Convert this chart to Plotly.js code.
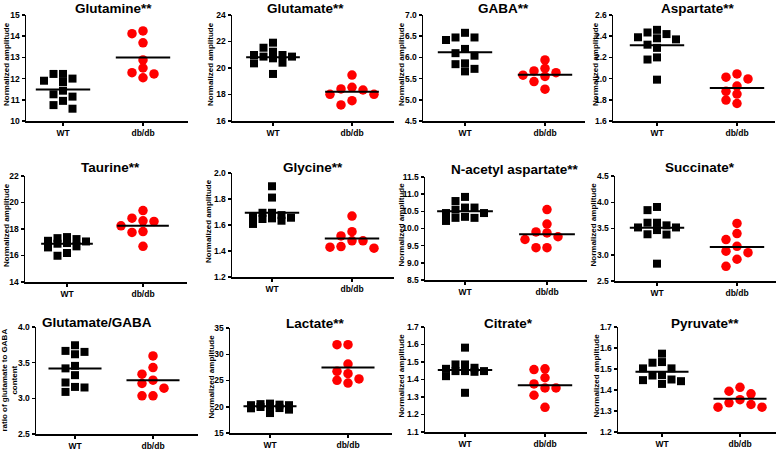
<!DOCTYPE html>
<html>
<head>
<meta charset="utf-8">
<script src="https://cdn.plot.ly/plotly-3.0.1.min.js"></script>
<style>
  html, body { margin: 0; padding: 0; background: #fff; }
  #chart { width: 778px; height: 450px; }
</style>
</head>
<body>
<div id="chart"></div>
<script>
// values (normalized amplitude per animal)
var groups = ["WT", "db/db"];

var glutamineWT = [12.22, 12.0, 11.84, 11.9, 12.22, 10.95, 11.15, 11.26, 11.43, 10.58, 10.75];
var glutamineDB = [14.25, 14.12, 13.69, 12.88, 12.28, 12.04, 12.22, 12.5];
var glutamateWT = [21.91, 21.53, 21.23, 20.98, 20.98, 20.86, 20.86, 20.73, 20.40, 20.35, 19.55];
var glutamateDB = [19.47, 18.54, 18.42, 18.34, 18.01, 18.01, 17.53, 17.21];
var gabaWT = [6.47, 6.41, 6.47, 6.58, 6.10, 6.04, 6.20, 5.84, 5.67, 5.73, 5.86];
var gabaDB = [5.68, 5.58, 5.94, 5.55, 5.64, 5.43, 5.74, 5.25];
var aspartateWT = [2.435, 2.39, 2.37, 2.38, 2.42, 2.46, 2.32, 2.29, 2.20, 2.18, 1.99];
var aspartateDB = [2.044, 1.997, 2.013, 1.93, 1.88, 1.854, 1.797, 1.765];
var taurineWT = [17.11, 16.94, 17.31, 17.39, 16.89, 17.06, 17.24, 16.69, 16.61, 15.98, 16.19];
var taurineDB = [19.39, 18.57, 18.62, 18.82, 18.24, 17.81, 17.74, 16.69];
var glycineWT = [1.898, 1.811, 1.656, 1.694, 1.646, 1.694, 1.608, 1.633, 1.651, 1.676, 1.664];
var glycineDB = [1.669, 1.549, 1.516, 1.478, 1.434, 1.422, 1.429, 1.478];
var naaWT = [10.80, 10.92, 10.61, 10.45, 10.55, 10.61, 10.45, 10.31, 10.22, 10.31, 10.34];
var naaDB = [10.55, 10.13, 9.87, 9.76, 9.90, 9.68, 9.44, 9.44];
var succinateWT = [3.91, 3.85, 3.61, 3.56, 3.61, 3.52, 3.52, 3.47, 3.39, 3.385, 2.83];
var succinateDB = [3.596, 3.404, 3.29, 3.16, 3.067, 3.04, 2.914, 2.78];
var gluGabaWT = [3.744, 3.665, 3.618, 3.651, 3.42, 3.455, 3.325, 3.16, 3.152, 3.222, 3.09];
var gluGabaDB = [3.595, 3.432, 3.339, 3.255, 3.208, 3.143, 3.036, 3.036];
var lactateWT = [19.95, 20.6, 20.5, 19.45, 19.75, 18.8, 20.3, 20.4, 20.3, 19.7, 20.2];
var lactateDB = [31.83, 31.83, 28.14, 26.75, 25.29, 24.52, 25.03, 26.3];
var citrateWT = [1.582, 1.448, 1.444, 1.461, 1.486, 1.486, 1.467, 1.448, 1.448, 1.419, 1.324];
var citrateDB = [1.461, 1.457, 1.41, 1.352, 1.375, 1.352, 1.31, 1.241];
var pyruvateWT = [1.573, 1.533, 1.53, 1.503, 1.503, 1.469, 1.471, 1.45, 1.447, 1.442, 1.429];
var pyruvateDB = [1.394, 1.413, 1.382, 1.354, 1.331, 1.318, 1.318, 1.339];

// group mean lines as drawn in the figure
var meanWT = [11.49, 20.81, 6.12, 2.314, 16.89, 1.694, 10.50, 3.513, 3.418, 20.08, 1.455, 1.487];
var meanDB = [13.0, 18.21, 5.59, 1.911, 18.24, 1.496, 9.83, 3.15, 3.255, 27.5, 1.367, 1.358];

var titles = ["Glutamine**", "Glutamate**", "GABA**", "Aspartate**",
              "Taurine**", "Glycine**", "N-acetyl aspartate**", "Succinate*",
              "Glutamate/GABA", "Lactate**", "Citrate*", "Pyruvate**"];
var yTitles = ["Normalized amplitude", "Normalized amplitude", "Normalized amplitude", "Normalized amplitude",
               "Normalized amplitude", "Normalized amplitude", "Normalized amplitude", "Normalized amplitude",
               "ratio of glutamate to GABA<br>content", "Normalized amplitude", "Normalized amplitude", "Normalized amplitude"];
var yMin = [10, 16, 4.5, 1.6, 14, 1.2, 8.5, 2.5, 2.5, 15, 1.1, 1.2];
var yMax = [15, 24, 7.0, 2.6, 22, 2.0, 11.5, 4.5, 4.0, 35, 1.7, 1.7];
var yStep = [1, 2, 0.5, 0.2, 2, 0.2, 0.5, 0.5, 0.5, 5, 0.1, 0.1];

var wtSets = [glutamineWT, glutamateWT, gabaWT, aspartateWT, taurineWT, glycineWT,
              naaWT, succinateWT, gluGabaWT, lactateWT, citrateWT, pyruvateWT];
var dbSets = [glutamineDB, glutamateDB, gabaDB, aspartateDB, taurineDB, glycineDB,
              naaDB, succinateDB, gluGabaDB, lactateDB, citrateDB, pyruvateDB];

// panel geometry in page pixels: [axis left, WT tick, db/db tick, top, bottom]
var geo = [
  [26, 63, 143, 15, 121], [232, 273, 352, 15, 121], [423, 465, 545, 15, 121], [613, 657, 737, 15, 121],
  [25, 67, 143, 176, 282], [232, 272, 352, 173, 277], [425, 465, 547, 177, 280], [615, 657, 737, 176, 281],
  [36, 75, 153, 327, 434], [230, 270, 348, 328, 433], [425, 465, 545, 327, 432], [618, 662, 740, 327, 432]
];
var titlePos = [[113, 8], [305, 8], [503, 8], [698, 8], [110, 167], [313, 168], [515, 169], [700, 168],
                [97, 322], [315, 323], [508, 323], [705, 323]];
var yTitleX = [6, 210, 401, 595, 6, 209, 401, 593, 9, 211, 401, 596];

var W = 778, H = 450;

// column-scatter layout: spread points sideways (at most 5 columns) when they would overlap
function swarm(vals, pxY, pxX, stepPx) {
  var order = vals.map(function (v, i) { return i; }).sort(function (a, b) { return vals[b] - vals[a]; });
  var placed = [], off = [];
  var step = stepPx / pxX;
  var cols = [0, -1, 1, -2, 2];
  order.forEach(function (i) {
    var best = null, bestGap = -1;
    for (var k = 0; k < cols.length; k++) {
      var o = cols[k] * step;
      var gap = Infinity;
      placed.forEach(function (p) {
        if (Math.abs(p.o - o) * pxX < stepPx - 0.5) gap = Math.min(gap, Math.abs(p.v - vals[i]) * pxY);
      });
      if (gap >= 8) { best = o; break; }
      if (gap > bestGap) { bestGap = gap; best = o; }
    }
    off[i] = best;
    placed.push({ o: best, v: vals[i] });
  });
  return off;
}

var bold = { family: "Arial, Liberation Sans, sans-serif", color: "#000", weight: "bold" };
var data = [];
var layout = {
  width: W, height: H,
  margin: { l: 0, r: 0, t: 0, b: 0 },
  paper_bgcolor: "#fff", plot_bgcolor: "rgba(0,0,0,0)",
  showlegend: false,
  annotations: []
};

for (var p = 0; p < 12; p++) {
  var g = geo[p];
  var pxX = g[2] - g[1];
  var x0 = 1 - (g[1] - g[0]) / pxX;
  var right = Math.min(g[0] + 162, 776);
  var x1 = x0 + (right - g[0]) / pxX;
  var pxY = (g[4] - g[3]) / (yMax[p] - yMin[p]);
  var n = p + 1;
  var xa = "x" + (n === 1 ? "" : n), ya = "y" + (n === 1 ? "" : n);

  var sets = [wtSets[p], dbSets[p]];
  var means = [meanWT[p], meanDB[p]];
  sets.forEach(function (vals, gi) {
    var off = swarm(vals, pxY, pxX, gi === 0 ? 9.5 : 11);
    data.push({
      type: "scatter", mode: "markers", xaxis: xa, yaxis: ya,
      x: vals.map(function (v, i) { return gi + 1 + off[i]; }), y: vals,
      cliponaxis: false,
      marker: gi === 0
        ? { symbol: "square", size: 8, color: "#000" }
        : { symbol: "circle", size: 9.5, color: "#ff0000" },
      hoverinfo: "y"
    });
    data.push({
      type: "scatter", mode: "lines", xaxis: xa, yaxis: ya,
      x: [gi + 1 - 0.34, gi + 1 + 0.34], y: [means[gi], means[gi]],
      line: { color: "#000", width: 2 }, hoverinfo: "skip"
    });
  });

  var dec = yStep[p] < 1 ? ".1f" : "d";
  layout["xaxis" + (n === 1 ? "" : n)] = {
    domain: [g[0] / W, right / W], range: [x0, x1], anchor: ya,
    tickvals: [1, 2], ticktext: groups,
    showline: true, linecolor: "#000", linewidth: 1.5,
    ticks: "outside", ticklen: 3, tickwidth: 1.5, tickcolor: "#000",
    showgrid: false, zeroline: false, fixedrange: true,
    tickfont: Object.assign({ size: 8.5 }, bold)
  };
  layout["yaxis" + (n === 1 ? "" : n)] = {
    domain: [1 - g[4] / H, 1 - g[3] / H], range: [yMin[p], yMax[p]], anchor: xa,
    tick0: yMin[p], dtick: yStep[p], tickformat: dec,
    showline: true, linecolor: "#000", linewidth: 1.5,
    ticks: "outside", ticklen: 3, tickwidth: 1.5, tickcolor: "#000",
    showgrid: false, zeroline: false, fixedrange: true,
    tickfont: Object.assign({ size: 8.5 }, bold)
  };

  layout.annotations.push({
    text: titles[p], xref: "paper", yref: "paper",
    x: titlePos[p][0] / W, y: 1 - titlePos[p][1] / H,
    xanchor: "center", yanchor: "middle", showarrow: false,
    font: Object.assign({ size: 13.5 }, bold)
  });
  layout.annotations.push({
    text: yTitles[p], xref: "paper", yref: "paper",
    x: yTitleX[p] / W, y: 1 - ((g[3] + g[4]) / 2 - (p === 8 ? 0 : 4)) / H,
    xanchor: "center", yanchor: "middle", showarrow: false, textangle: -90,
    font: Object.assign({ size: 8 }, bold)
  });
}

Plotly.newPlot("chart", data, layout, { displayModeBar: false, staticPlot: true });
</script>
</body>
</html>
